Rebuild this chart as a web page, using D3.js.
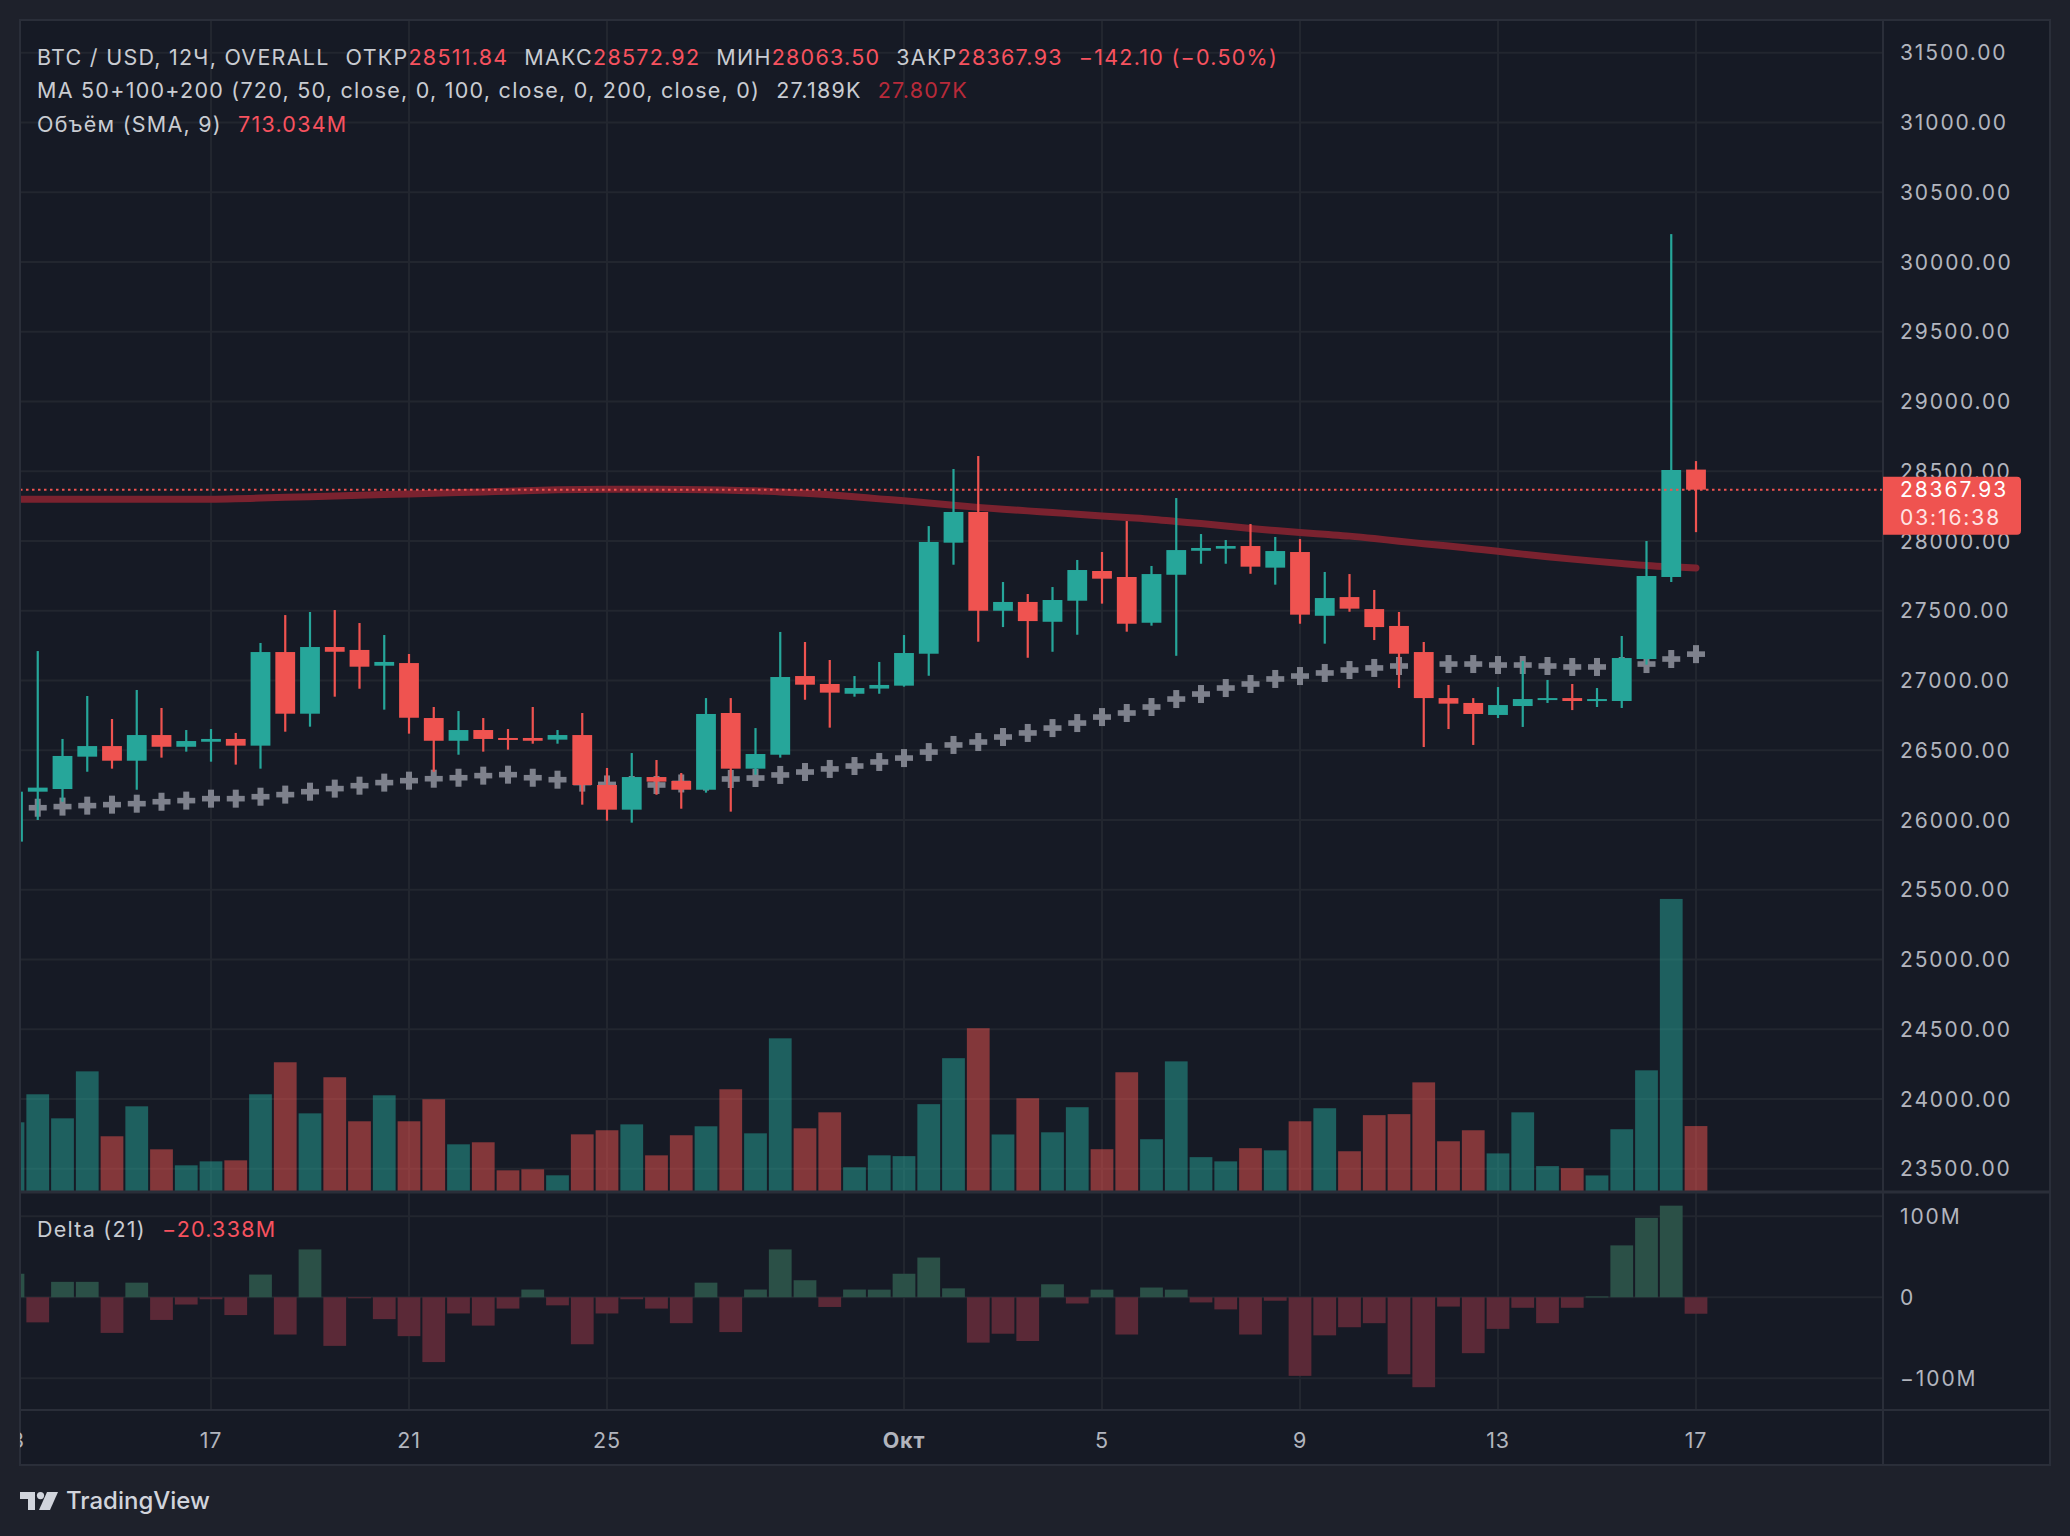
<!DOCTYPE html>
<html><head><meta charset="utf-8">
<script src="https://cdn.jsdelivr.net/npm/d3@7/dist/d3.min.js"></script>
<style>html,body{margin:0;padding:0;background:#1e212b;}svg{display:block}</style>
</head><body><svg id="c" width="2070" height="1536"></svg>
<script>
// ---------- DATA ----------
const startTime = new Date(2023, 8, 13, 0, 0); // first 12h candle
const opens  = [25845,26203,26222,26454,26530,26425,26609,26525,26561,26581,26533,27204,26762,27240,27219,27106,27125,26731,26568,26645,26588,26588,26576,26609,26251,26074,26308,26280,26217,26767,26368,26468,27032,26975,26905,26942,26963,27192,27988,28208,27500,27563,27421,27572,27785,27742,27414,27758,27930,27945,27964,27809,27921,27464,27598,27512,27391,27204,26874,26839,26753,26817,26862,26874,26853,26853,27154,27742,28511.84];
const highs  = [26210,27211,26581,26889,26724,26932,26803,26645,26652,26624,27269,27469,27491,27505,27412,27326,27190,26810,26781,26731,26652,26810,26645,26767,26373,26480,26430,26337,26874,26874,26659,27348,27276,27147,27032,27133,27326,28107,28516,28609,27706,27620,27670,27864,27921,28143,27821,28308,28050,28007,28122,28029,28014,27778,27763,27649,27491,27276,26968,26874,26953,27140,27004,26975,26946,27319,28000,30200,28572.92];
const lows   = [25830,26000,26131,26346,26368,26217,26447,26490,26418,26397,26368,26633,26669,26884,26941,26791,26619,26346,26468,26490,26504,26547,26547,26110,25995,25981,26181,26081,26196,26060,26325,26447,26862,26662,26884,26905,26956,27034,27830,27278,27383,27163,27206,27328,27551,27350,27393,27177,27837,27837,27765,27687,27407,27264,27493,27290,26946,26523,26652,26538,26731,26667,26839,26788,26810,26803,27114,27706,28063.50];
const closes = [26203,26232,26459,26530,26425,26609,26525,26566,26581,26533,27204,26762,27240,27206,27099,27133,26733,26568,26645,26581,26576,26568,26609,26251,26074,26308,26275,26217,26760,26368,26473,27025,26970,26913,26946,26968,27197,27993,28208,27500,27563,27426,27577,27792,27730,27407,27763,27935,27950,27964,27816,27928,27472,27591,27515,27383,27192,26874,26834,26760,26824,26867,26874,26853,26867,27161,27749,28509,28367.93];
const ma50   = [26080,26088,26096,26103,26110,26117,26131,26139,26153,26153,26167,26182,26203,26225,26246,26268,26282,26296,26303,26318,26325,26303,26289,26268,26255,26251,26251,26262,26275,26294,26301,26323,26344,26366,26387,26416,26444,26487,26538,26559,26595,26624,26659,26695,26738,26767,26810,26867,26903,26946,26975,27011,27032,27054,27075,27090,27104,27111,27118,27118,27111,27111,27104,27097,27097,27104,27118,27154,27189];
const ma200  = [28299,28299,28300,28300,28300,28300,28299,28299,28299,28302,28308,28313,28318,28323,28328,28333,28337,28342,28347,28352,28357,28362,28367,28370,28371,28371,28371,28370,28368,28364,28360,28352,28343,28332,28318,28302,28288,28272,28256,28241,28228,28216,28204,28192,28180,28168,28156,28140,28125,28108,28090,28075,28061,28048,28035,28018,27998,27981,27964,27945,27926,27906,27887,27870,27854,27839,27825,27815,27807];
const volumeM = [614,861,649,1063,491,755,376,235,270,279,861,1143,693,1011,623,852,623,817,420,438,191,200,147,508,544,596,323,500,579,905,517,1354,561,702,218,323,316,774,1179,1443,507,826,526,747,377,1055,465,1151,307,270,386,367,623,738,359,677,686,966,447,544,340,702,228,210,146,553,1072,2582,581];
const deltaM = [29,-31,19,19,-44,18,-28,-9,-2.5,-22,28,-46,59,-60,-1.2,-27,-48,-80,-20,-35,-14,9.5,-10,-58,-20,-2.5,-14,-32,18,-43,9.5,59,21,-12,9.5,9.4,29,49,11,-56,-45,-54,16,-7.7,9.4,-46,12,9.4,-6.4,-15,-46,-4.3,-97,-47,-37,-32,-95,-111,-11.5,-69,-39,-13,-32,-13,1,64,98,113,-20.338];
const priceTicks = [23500,24000,24500,25000,25500,26000,26500,27000,27500,28000,28500,29000,29500,30000,30500,31000,31500];
const deltaTicks = [100,0,-100];
const deltaTickLabels = ["100M","0","\u2212100M"];
const xTickDates = [[2023,8,13],[2023,8,17],[2023,8,21],[2023,8,25],[2023,9,1],[2023,9,5],[2023,9,9],[2023,9,13],[2023,9,17]];
const xTickLabels = ["13","17","21","25","Окт","5","9","13","17"];
const lastPrice = 28367.93;
const countdown = "03:16:38";
const changeText = "\u2212142.10 (\u22120.50%)";
const volSmaText = "713.034M";
const deltaText = "\u221220.338M";

// ---------- LAYOUT ----------
const L=20, R=1883, T=20, mainB=1192, deltaB=1410, axisB=1465, axR=2050;
const C = {bg:"#161a25", outer:"#1e212b", grid:"#22262f", border:"#2a2e39", txt:"#b2b5be", legend:"#c9ccd2",
  up:"#26a69a", down:"#ef5350", upVol:"rgba(38,166,154,0.5)", downVol:"rgba(239,83,80,0.5)",
  upDelta:"#2b5047", downDelta:"#5b2937", ma50:"#7e818c", ma200:"#7f232f", red:"#f7525f"};
const FONT = "Inter, 'Noto Sans', sans-serif";

const svg = d3.select("#c");
const times = opens.map((d,i)=>d3.timeHour.offset(startTime, 12*i));
const x = d3.scaleTime().domain([times[0], times[times.length-1]]).range([13, 1696]);
const y = d3.scaleLinear().domain([23500,31500]).range([1168.75, 52.75]);
const yVol = d3.scaleLinear().domain([0,1000]).range([mainB, mainB-113.5]);
const yDelta = d3.scaleLinear().domain([-100,100]).range([1378.3, 1216.2]);
const step = x(times[1]) - x(times[0]);
const bodyW = step*0.8, volW = step*0.92;

svg.append("rect").attr("width",2070).attr("height",1536).attr("fill",C.outer);
svg.append("rect").attr("x",L).attr("y",T).attr("width",axR-L).attr("height",axisB-T).attr("fill",C.bg);

const defs = svg.append("defs");
defs.append("clipPath").attr("id","clipMain").append("rect").attr("x",L).attr("y",T).attr("width",R-L).attr("height",mainB-T);
defs.append("clipPath").attr("id","clipDelta").append("rect").attr("x",L).attr("y",mainB).attr("width",R-L).attr("height",deltaB-mainB);
defs.append("clipPath").attr("id","clipAxis").append("rect").attr("x",L).attr("y",deltaB).attr("width",R-L).attr("height",axisB-deltaB);

// grid
const grid = svg.append("g");
const xTicks = xTickDates.map(d=>new Date(d[0],d[1],d[2]));
grid.append("g").attr("clip-path","url(#clipMain)").selectAll("line").data(priceTicks).join("line")
  .attr("x1",L).attr("x2",R).attr("y1",d=>y(d)).attr("y2",d=>y(d)).attr("stroke",C.grid).attr("stroke-width",2);
grid.append("g").selectAll("line").data(deltaTicks).join("line")
  .attr("x1",L).attr("x2",R).attr("y1",d=>yDelta(d)).attr("y2",d=>yDelta(d)).attr("stroke",C.grid).attr("stroke-width",2);
grid.append("g").selectAll("line").data(xTicks.filter(d=>x(d)>L)).join("line")
  .attr("x1",d=>x(d)).attr("x2",d=>x(d)).attr("y1",T).attr("y2",deltaB).attr("stroke",C.grid).attr("stroke-width",2);

// main pane
const main = svg.append("g").attr("clip-path","url(#clipMain)");
main.append("g").selectAll("rect").data(volumeM).join("rect")
  .attr("x",(d,i)=>x(times[i])-volW/2).attr("width",volW)
  .attr("y",d=>yVol(d)).attr("height",d=>mainB-yVol(d))
  .attr("fill",(d,i)=>closes[i]>=opens[i]?C.upVol:C.downVol);

main.append("path").datum(ma200)
  .attr("d",d3.line().x((d,i)=>x(times[i])).y(d=>y(d)).curve(d3.curveMonotoneX))
  .attr("fill","none").attr("stroke",C.ma200).attr("stroke-width",7).attr("stroke-linecap","round").attr("opacity",0.95);

const cross = main.append("g").selectAll("g").data(ma50).join("g")
  .attr("transform",(d,i)=>`translate(${x(times[i])},${y(d)})`);
cross.append("rect").attr("x",-9).attr("y",-2.8).attr("width",18).attr("height",5.6).attr("fill",C.ma50);
cross.append("rect").attr("x",-3).attr("y",-9).attr("width",6).attr("height",18).attr("fill",C.ma50);

const cg = main.append("g").selectAll("g").data(opens).join("g");
cg.append("rect").attr("x",(d,i)=>x(times[i])-1.1).attr("width",2.2)
  .attr("y",(d,i)=>y(highs[i])).attr("height",(d,i)=>y(lows[i])-y(highs[i]))
  .attr("fill",(d,i)=>closes[i]>=opens[i]?C.up:C.down);
cg.append("rect").attr("x",(d,i)=>x(times[i])-bodyW/2).attr("width",bodyW)
  .attr("y",(d,i)=>y(Math.max(opens[i],closes[i])))
  .attr("height",(d,i)=>Math.max(2,Math.abs(y(opens[i])-y(closes[i]))))
  .attr("fill",(d,i)=>closes[i]>=opens[i]?C.up:C.down);

main.append("line").attr("x1",L).attr("x2",R).attr("y1",y(lastPrice)).attr("y2",y(lastPrice))
  .attr("stroke",C.down).attr("stroke-width",2).attr("stroke-dasharray","2.5 3.5");

// delta pane
const dp = svg.append("g").attr("clip-path","url(#clipDelta)");
dp.selectAll("rect").data(deltaM).join("rect")
  .attr("x",(d,i)=>x(times[i])-volW/2).attr("width",volW)
  .attr("y",d=>yDelta(Math.max(0,d))).attr("height",d=>Math.max(1,Math.abs(yDelta(d)-yDelta(0))))
  .attr("fill",d=>d>=0?C.upDelta:C.downDelta);

// borders
const b = svg.append("g").attr("fill","none").attr("stroke",C.border).attr("stroke-width",2);
b.append("rect").attr("x",L).attr("y",T).attr("width",axR-L).attr("height",axisB-T);
b.append("line").attr("x1",R).attr("x2",R).attr("y1",T).attr("y2",axisB);
b.append("line").attr("x1",L).attr("x2",axR).attr("y1",mainB).attr("y2",mainB).attr("stroke-width",3);
b.append("line").attr("x1",L).attr("x2",axR).attr("y1",deltaB).attr("y2",deltaB);

// price axis labels
const AX = {size:21, ls:1.9};
svg.append("g").selectAll("text").data(priceTicks).join("text")
  .attr("x",1900).attr("y",d=>y(d)).attr("dy","0.36em")
  .attr("fill",C.txt).attr("font-family",FONT).attr("font-size",AX.size).attr("letter-spacing",AX.ls)
  .text(d=>d3.format(".2f")(d));
svg.append("g").selectAll("text").data(deltaTicks).join("text")
  .attr("x",1900).attr("y",d=>yDelta(d)).attr("dy","0.36em")
  .attr("fill",C.txt).attr("font-family",FONT).attr("font-size",AX.size).attr("letter-spacing",AX.ls)
  .text((d,i)=>deltaTickLabels[i]);

// last price box
const ly = y(lastPrice);
svg.append("path").attr("d",`M${R},${ly-13} h134 a4,4 0 0 1 4,4 v50 a4,4 0 0 1 -4,4 h-134 z`).attr("fill",C.down);
svg.append("text").attr("x",1900).attr("y",ly).attr("dy","0.36em").attr("fill","#fff")
  .attr("font-family",FONT).attr("font-size",AX.size).attr("letter-spacing",AX.ls).text(d3.format(".2f")(lastPrice));
svg.append("text").attr("x",1900).attr("y",ly+27.5).attr("dy","0.36em").attr("fill","#ffe3e3")
  .attr("font-family",FONT).attr("font-size",AX.size).attr("letter-spacing",AX.ls).text(countdown);

// time axis
svg.append("g").attr("clip-path","url(#clipAxis)").selectAll("text").data(xTicks).join("text")
  .attr("x",d=>x(d)).attr("y",1440).attr("dy","0.36em").attr("text-anchor","middle")
  .attr("fill",C.txt).attr("font-family",FONT).attr("font-size",21.5).attr("letter-spacing",0.8)
  .attr("font-weight",(d,i)=>xTickLabels[i]==="Окт"?700:400)
  .text((d,i)=>xTickLabels[i]);

// legends
function legend(yy, parts){
  const t = svg.append("text").attr("x",37).attr("y",yy).attr("font-family",FONT).attr("font-size",21.5).attr("letter-spacing",1.25);
  parts.forEach(p=>t.append("tspan").attr("fill",p[1]).attr("dx",p[2]||0).text(p[0]));
}
legend(64.5,[["BTC / USD, 12Ч, OVERALL",C.legend],["ОТКР",C.legend,16],[d3.format(".2f")(opens[68]),C.red],
  ["МАКС",C.legend,16],[d3.format(".2f")(highs[68]),C.red],["МИН",C.legend,16],[d3.format(".2f")(lows[68]),C.red],
  ["ЗАКР",C.legend,16],[d3.format(".2f")(closes[68]),C.red],[changeText,C.red,16]]);
legend(98,[["MA 50+100+200 (720, 50, close, 0, 100, close, 0, 200, close, 0)",C.legend],
  [(ma50[68]/1000).toFixed(3)+"K",C.legend,16],[(ma200[68]/1000).toFixed(3)+"K","#b82a3a",16]]);
legend(131.5,[["Объём (SMA, 9)",C.legend],[volSmaText,C.red,16]]);
legend(1236.5,[["Delta (21)",C.legend],[deltaText,C.red,16]]);

// TradingView logo
const lg = svg.append("g").attr("transform","translate(20,1492)").attr("fill","#d1d4dc");
lg.append("path").attr("d","M0,0 H15 V18 H8 V7 H0 Z");
lg.append("circle").attr("cx",20.5).attr("cy",3.6).attr("r",3.6);
lg.append("path").attr("d","M27,0 H38 L30,18 H19 Z");
svg.append("text").attr("x",66).attr("y",1509).attr("fill","#d1d4dc").attr("font-family",FONT)
  .attr("font-size",24).attr("font-weight",500).text("TradingView");
</script></body></html>
